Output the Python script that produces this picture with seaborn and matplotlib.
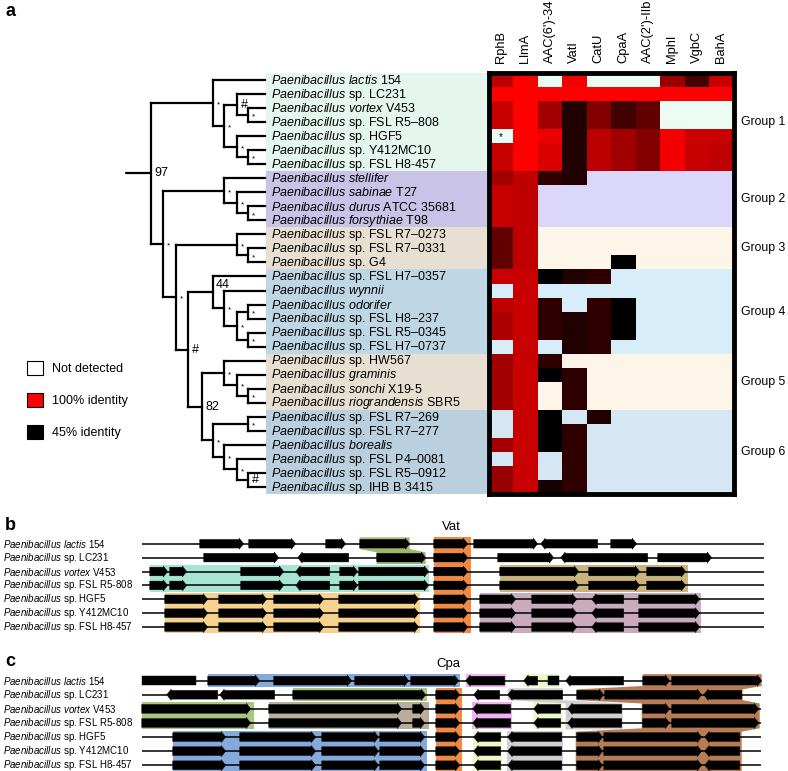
import numpy as np
import pandas as pd
import matplotlib
matplotlib.use('Agg')
import matplotlib.pyplot as plt
import seaborn as sns
from matplotlib.colors import LinearSegmentedColormap
from matplotlib.patches import Rectangle, Polygon, Patch

sns.set_style('white')
plt.rcParams['font.family'] = ['Liberation Sans', 'DejaVu Sans']
plt.rcParams['mathtext.fontset'] = 'custom'
plt.rcParams['mathtext.rm'] = 'Liberation Sans'
plt.rcParams['mathtext.it'] = 'Liberation Sans:italic'
plt.rcParams['text.color'] = 'black'
plt.rcParams['xtick.color'] = 'black'

N = np.nan

# ---------------- panel a data ----------------
gene_names = ['RphB', 'LlmA', "AAC(6')-34", 'VatI', 'CatU', 'CpaA', "AAC(2')-IIb", 'MphI', 'VgbC', 'BahA']

species_it = ['Paenibacillus lactis', 'Paenibacillus', 'Paenibacillus vortex', 'Paenibacillus',
              'Paenibacillus', 'Paenibacillus', 'Paenibacillus',
              'Paenibacillus stellifer', 'Paenibacillus sabinae', 'Paenibacillus durus', 'Paenibacillus forsythiae',
              'Paenibacillus', 'Paenibacillus', 'Paenibacillus',
              'Paenibacillus', 'Paenibacillus wynnii', 'Paenibacillus odorifer', 'Paenibacillus',
              'Paenibacillus', 'Paenibacillus',
              'Paenibacillus', 'Paenibacillus graminis', 'Paenibacillus sonchi', 'Paenibacillus riograndensis',
              'Paenibacillus', 'Paenibacillus', 'Paenibacillus borealis', 'Paenibacillus',
              'Paenibacillus', 'Paenibacillus']
species_strain = ['154', 'sp. LC231', 'V453', 'sp. FSL R5–808', 'sp. HGF5', 'sp. Y412MC10', 'sp. FSL H8-457',
                  '', 'T27', 'ATCC 35681', 'T98',
                  'sp. FSL R7–0273', 'sp. FSL R7–0331', 'sp. G4',
                  'sp. FSL H7–0357', '', '', 'sp. FSL H8–237', 'sp. FSL R5–0345', 'sp. FSL H7–0737',
                  'sp. HW567', '', 'X19-5', 'SBR5',
                  'sp. FSL R7–269', 'sp. FSL R7–277', '', 'sp. FSL P4–0081', 'sp. FSL R5–0912', 'sp. IHB B 3415']

# identity (fraction) per gene, NaN = not detected
rphb = [0.85, 1.0, 0.88, 0.88, N, 0.88, 0.88, 0.80, 0.88, 0.88, 0.88, 0.66, 0.66, 0.66, 0.88,
        N, 0.86, 0.82, 0.82, N, 0.80, 0.80, 0.80, 0.80, N, N, 0.80, N, 0.78, 0.78]
llma = [1.0] * 7 + [0.86] * 7 + [0.88] * 16
aac6 = [N, 1.0, 0.80, 0.80, 0.96, 0.92, 0.92, 0.55, N, N, N, N, N, N, 0.45,
        N, 0.55, 0.55, 0.55, N, 0.55, 0.45, N, N, 0.45, 0.45, 0.45, N, N, 0.50]
vati = [0.97, 1.0, 0.52, 0.52, 0.52, 0.52, 0.52, 0.52, N, N, N, N, N, N, 0.52,
        N, N, 0.52, 0.52, 0.52, N, 0.55, 0.55, 0.55, N, 0.55, 0.55, 0.55, 0.55, 0.55]
catu = [N, 1.0, 0.73, 0.73, 0.85, 0.85, 0.85, N, N, N, N, N, N, N, 0.55,
        N, 0.55, 0.55, 0.55, 0.55, N, N, N, N, 0.52, N, N, N, N, N]
cpaa = [N, 1.0, 0.59, 0.59, 0.80, 0.80, 0.80, N, N, N, N, N, N, 0.45, N,
        N, 0.45, 0.45, 0.45, N, N, N, N, N, N, N, N, N, N, N]
aac2 = [N, 1.0, 0.66, 0.66, 0.73, 0.73, 0.73] + [N] * 23
mphi = [0.78, 1.0, N, N, 0.97, 0.97, 0.97] + [N] * 23
vgbc = [0.60, 1.0, N, N, 0.89, 0.88, 0.88] + [N] * 23
baha = [0.88, 1.0, N, N, 0.88, 0.86, 0.86] + [N] * 23

group_names = ['Group 1', 'Group 2', 'Group 3', 'Group 4', 'Group 5', 'Group 6']
group_rows = [(0, 6), (7, 10), (11, 13), (14, 19), (20, 23), (24, 29)]
group_label_bg = ['#e4f6ee', '#c8c3e7', '#e6dfd2', '#bfd7e4', '#e6dfd2', '#bad0df']
group_cell_bg = ['#ecfbf4', '#dbd7fa', '#fdf5e8', '#d7edfa', '#fdf5e8', '#d6e7f4']

# tree: (support, depth level, children); ints are leaves (row index)
level_x = [0.0, 0.98, 2.03, 3.0, 4.15, 5.04, 5.93, 6.99, 7.89]
leaf_x = 9.27
tree = ('97', 0, [
    ('*', 5, [0, ('*', 6, [('#', 7, [1, ('*', 8, [2, 3])]),
                           ('*', 7, [4, ('*', 8, [5, 6])])])]),
    ('*', 1, [
        ('*', 6, [7, ('*', 7, [8, ('*', 8, [9, 10])])]),
        ('*', 2, [
            ('*', 7, [11, ('*', 8, [12, 13])]),
            ('#', 3, [
                ('44', 5, [14, ('*', 6, [15, ('*', 7, [('*', 8, [16, 17]), ('*', 8, [18, 19])])])]),
                ('82', 4, [
                    ('*', 6, [20, ('*', 7, [21, ('*', 8, [22, 23])])]),
                    ('*', 5, [('*', 8, [24, 25]),
                              ('*', 6, [26, ('*', 7, [27, ('#', 8, [28, 29])])])]),
                ]),
            ]),
        ]),
    ]),
])

legend_labels = ['Not detected', '100% identity', '45% identity']
legend_colors = ['white', '#ff0000', '#000000']

# ---------------- panels b / c data ----------------
locus_it = ['Paenibacillus lactis', 'Paenibacillus', 'Paenibacillus vortex', 'Paenibacillus',
            'Paenibacillus', 'Paenibacillus', 'Paenibacillus']
locus_strain = ['154', 'sp. LC231', 'V453', 'sp. FSL R5-808', 'sp. HGF5', 'sp. Y412MC10', 'sp. FSL H8-457']

# genes: (start, end, strand)
b_row0 = [(58, 102, 1), (107, 154, 1), (184, 204, 1), (218, 268, 1), (292, 326, 1),
          (332, 396, 1), (399, 456, -1), (469, 495, 1)]
b_row1 = [(62, 137, 1), (156, 207, -1), (235, 284, 1), (292, 326, 1), (356, 412, 1),
          (419, 506, -1), (516, 570, 1)]
b_row23 = [(8, 26, 1), (28, 45, 1), (99, 142, 1), (154, 188, -1), (198, 216, 1), (217, 287, 1),
           (292, 326, 1), (358, 437, 1), (447, 498, 1), (505, 544, 1)]
b_row456 = [(23, 66, 1), (77, 125, 1), (132, 182, 1), (197, 277, 1), (292, 326, 1),
            (338, 374, 1), (390, 435, 1), (450, 482, -1), (497, 558, 1)]
b_genes = [b_row0, b_row1, b_row23, b_row23, b_row456, b_row456, b_row456]
b_line_end = 622

b_bands = [
    ('#9cba6c', [(0, 218, 268), (1, 235, 284)]),
    ('#a6e4d4', [(2, 8, 287), (3, 8, 287)]),
    ('#f6d28f', [(4, 23, 278), (5, 23, 278), (6, 23, 278)]),
    ('#ee8a45', [(r, 292, 329) for r in range(7)]),
    ('#c9b37e', [(2, 358, 546), (3, 358, 546)]),
    ('#caabbd', [(4, 338, 559), (5, 338, 559), (6, 338, 559)]),
]

c_row0 = [(0, 54, 0), (66, 118, 1), (132, 210, 1), (213, 267, 1), (269, 317, 1), (324, 363, -1),
          (382, 396, -1), (406, 417, 0), (424, 482, -1), (501, 528, 1), (530, 620, 1)]
c_row1 = [(25, 76, -1), (78, 133, -1), (151, 284, 1), (294, 318, 1), (332, 358, -1),
          (366, 421, -1), (435, 462, 1), (463, 560, 1), (562, 600, -1)]
c_row23 = [(0, 109, 1), (127, 260, 1), (271, 283, 1), (294, 318, 1), (331, 369, -1),
           (392, 419, -1), (426, 480, -1), (501, 528, 1), (530, 617, 1)]
c_row456 = [(31, 84, 1), (98, 174, 1), (180, 237, 1), (238, 283, 1), (294, 318, 1), (332, 359, -1),
            (366, 420, -1), (435, 461, 1), (462, 560, 1), (563, 598, -1)]
c_genes = [c_row0, c_row1, c_row23, c_row23, c_row456, c_row456, c_row456]
c_line_end = 619

c_bands = [
    ('#86a9dc', [(0, 66, 318)]),
    ('#86a9dc', [(4, 31, 285), (5, 31, 285), (6, 31, 285)]),
    ('#a7c67e', [(1, 151, 285)]),
    ('#a7c67e', [(2, 0, 112), (3, 0, 112)]),
    ('#b9ae9c', [(2, 127, 287), (3, 127, 287)]),
    ('#ee8a45', [(r, 294, 320) for r in range(1, 7)]),
    ('#f3b1f3', [(0, 324, 364)]),
    ('#f3b1f3', [(2, 330, 370), (3, 330, 370)]),
    ('#ecf8c6', [(0, 382, 417)]),
    ('#ecf8c6', [(2, 391, 420), (3, 391, 420)]),
    ('#ecf8c6', [(4, 331, 360), (5, 331, 360), (6, 331, 360)]),
    ('#d0d0d0', [(1, 366, 421), (2, 424, 481), (3, 424, 481)]),
    ('#d0d0d0', [(4, 365, 421), (5, 365, 421), (6, 365, 421)]),
    ('#b57c55', [(0, 501, 620), (1, 435, 601), (2, 500, 618), (3, 500, 618),
                 (4, 434, 600), (5, 434, 600), (6, 434, 600)]),
]


def label_text(it, strain):
    it_tex = it.replace(' ', r'\ ')
    s = r'$\mathit{' + it_tex + '}$'
    if strain:
        s += ' ' + strain
    return s


W, H = 788, 771
fig = plt.figure(figsize=(W / 100, H / 100), dpi=100)


def px_axes(x0, y0, x1, y1):
    return fig.add_axes([x0 / W, 1 - y1 / H, (x1 - x0) / W, (y1 - y0) / H])


# ---------------- tree + species labels ----------------
ax_t = px_axes(120, 73, 488.5, 494)
ax_t.set_xlim(-2.52, 27.44)
ax_t.set_ylim(29.5, -0.5)
ax_t.axis('off')

for (s, e), col in zip(group_rows, group_label_bg):
    ax_t.add_patch(Rectangle((9.35, s - 0.5), 27.44 - 9.35, e - s + 1, color=col, lw=0, zorder=0))

for i, (it, st) in enumerate(zip(species_it, species_strain)):
    ax_t.text(9.76, i + 0.05, label_text(it, st), va='center', ha='left', fontsize=9.0)

tree_lw = 1.6


def draw_node(node):
    if isinstance(node, int):
        return leaf_x, node
    sup, lev, kids = node
    x = level_x[lev]
    pts = [draw_node(k) for k in kids]
    ys = [p[1] for p in pts]
    for cx, cy in pts:
        ax_t.plot([x, cx], [cy, cy], color='black', lw=tree_lw, solid_capstyle='projecting')
    ax_t.plot([x, x], [min(ys), max(ys)], color='black', lw=tree_lw, solid_capstyle='projecting')
    y = (ys[0] + ys[-1]) / 2
    if sup == '*':
        ax_t.text(x + 0.3, y + 0.15, '*', fontsize=6, ha='left', va='center')
    elif sup == '44':
        ax_t.text(x + 0.25, y - 0.55, sup, fontsize=9, ha='left', va='center')
    else:
        ax_t.text(x + 0.3, y, sup, fontsize=9, ha='left', va='center')
    return x, y


rx, ry = draw_node(tree)
ax_t.plot([-2.03, rx], [ry, ry], color='black', lw=tree_lw)

# ---------------- heatmap ----------------
ax_h = px_axes(488.5, 73, 733.5, 494)
df = pd.DataFrame(dict(zip(gene_names, [rphb, llma, aac6, vati, catu, cpaa, aac2, mphi, vgbc, baha])))
cmap = LinearSegmentedColormap.from_list('ident', ['#000000', '#ff0000'])
sns.heatmap(df, ax=ax_h, cmap=cmap, vmin=0.45, vmax=1.0, cbar=False,
            xticklabels=gene_names, yticklabels=False)
for (s, e), col in zip(group_rows, group_cell_bg):
    ax_h.axhspan(s, e + 1, color=col, lw=0, zorder=0)
ax_h.text(0.5, 4.55, '*', ha='center', va='center', fontsize=7)
ax_h.xaxis.tick_top()
ax_h.set_xticklabels(gene_names, rotation=90, fontsize=9.3)
ax_h.tick_params(axis='x', length=0, pad=7, top=True, bottom=False, labeltop=True, labelbottom=False)
ax_h.set_xlabel('')
for sp in ax_h.spines.values():
    sp.set_visible(True)
    sp.set_color('black')
    sp.set_linewidth(3.5)
for name, (s, e) in zip(group_names, group_rows):
    ax_h.text(10.3, (s + e + 1) / 2, name, va='center', ha='left', fontsize=8.8)

# legend
handles = [Patch(facecolor=c, edgecolor='black', lw=0.8) for c in legend_colors]
fig.legend(handles, legend_labels, loc='upper left', bbox_to_anchor=(27 / W, 1 - 361 / H),
           frameon=False, fontsize=9, handlelength=1.3, handleheight=1.3,
           handletextpad=0.7, labelspacing=1.45, borderpad=0, borderaxespad=0)


# ---------------- gene neighbourhoods ----------------
def gene_poly(x0, x1, y, d, bh=0.31, hh=0.4, hl=4.5):
    if d == 0:
        return [(x0, y - bh), (x1, y - bh), (x1, y + bh), (x0, y + bh)]
    hl = min(hl, (x1 - x0) * 0.6)
    if d > 0:
        return [(x0, y - bh), (x1 - hl, y - bh), (x1 - hl, y - hh), (x1, y),
                (x1 - hl, y + hh), (x1 - hl, y + bh), (x0, y + bh)]
    return [(x1, y - bh), (x0 + hl, y - bh), (x0 + hl, y - hh), (x0, y),
            (x0 + hl, y + hh), (x0 + hl, y + bh), (x1, y + bh)]


def band_poly(segs, t=0.12, edge=0.46):
    left, right = [], []
    n = len(segs)
    for i, (r, a, b) in enumerate(segs):
        top = r - edge if i == 0 else r - 0.5 + t
        bot = r + edge if i == n - 1 else r + 0.5 - t
        left += [(a, top), (a, bot)]
        right += [(b, top), (b, bot)]
    return left + right[::-1]


def draw_loci(ax, genes, bands, line_end, title, title_x):
    ax.set_xlim(-11.7, 628.3)
    ax.set_ylim(6.5, -0.5)
    ax.axis('off')
    for col, segs in bands:
        ax.add_patch(Polygon(band_poly(segs), closed=True, facecolor=col, edgecolor='none', zorder=1))
    ax.hlines(range(len(genes)), 0, line_end, color='black', lw=1.1, zorder=2)
    for r, row in enumerate(genes):
        for x0, x1, d in row:
            ax.add_patch(Polygon(gene_poly(x0, x1, r, d), closed=True, facecolor='black',
                                 edgecolor='black', lw=0.3, zorder=3))
    for r, (it, st) in enumerate(zip(locus_it, locus_strain)):
        ax.text(-139, r, label_text(it, st), va='center', ha='left', fontsize=7, clip_on=False)
    ax.text(title_x, -1.2, title, ha='center', va='center', fontsize=9.5, clip_on=False)


ax_b = px_axes(130, 536.8, 770, 634)
draw_loci(ax_b, b_genes, b_bands, b_line_end, 'Vat', 310)
ax_c = px_axes(130, 673.6, 770, 772.3)
draw_loci(ax_c, c_genes, c_bands, c_line_end, 'Cpa', 307)

fig.text(5 / W, 1 - 12 / H, 'a', fontsize=13, fontweight='bold', va='center', ha='left')
fig.text(5 / W, 1 - 525 / H, 'b', fontsize=13, fontweight='bold', va='center', ha='left')
fig.text(5 / W, 1 - 662 / H, 'c', fontsize=13, fontweight='bold', va='center', ha='left')

fig.savefig('out.png', dpi=100)
